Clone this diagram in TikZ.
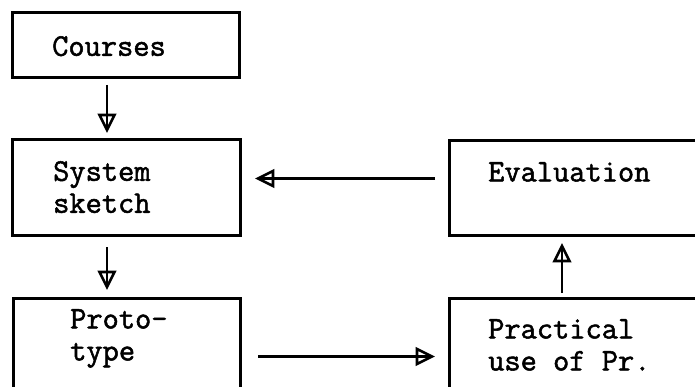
\documentclass[tikz,border=0pt]{standalone}
\usepackage{fontspec}
\newfontfamily\tw{Latin Modern Mono}[FakeBold=1.6]
\usetikzlibrary{decorations.markings}
\tikzset{
  box/.style={draw=black, line width=3pt, fill=none, anchor=north west, inner sep=0pt},
  lbl/.style={anchor=north west, inner sep=0pt, align=left, font=\tw\fontsize{31.5}{32}\selectfont},
  conn/.style={draw=black, line width=2.6pt, postaction={decorate},
    decoration={markings, mark=at position 1 with {\draw[line width=2.6pt, line join=miter] (0,0) -- (-15,7.5) -- (-15,-7.5) -- cycle;}}}
}
\begin{document}
\begin{tikzpicture}[x=1pt,y=-1pt]
\useasboundingbox (0,0) rectangle (695,387);
\fill[white] (0,0) rectangle (695,387);
\clip (0,0) rectangle (695,387);
\node[box, minimum width=227pt, minimum height=65pt] (courses) at (11,11) {};
\node[box, minimum width=228pt, minimum height=96pt] (sys) at (11,138) {};
\node[box, minimum width=227pt, minimum height=110pt] (proto) at (12,297) {};
\node[box, minimum width=260pt, minimum height=95pt] (eval) at (448,139) {};
\node[box, minimum width=260pt, minimum height=110pt] (prac) at (448,297) {};
\node[lbl] (tcourses) at (52,36) {Courses};
\node[lbl] (tsys) at (53,161) {System\\sketch};
\node[lbl] (tproto) at (70,309) {Proto-\\type};
\node[lbl] (teval) at (488,162) {Evaluation};
\node[lbl] (tprac) at (488,319) {Practical\\use of Pr.};
\draw[conn] ([shift={(96,6)}]courses.south west) -- ([shift={(96,-8)}]sys.north west);
\draw[conn] ([shift={(96,10)}]sys.south west) -- ([shift={(95,-10)}]proto.north west);
\draw[conn] ([shift={(-13,-9.5)}]eval.west) -- ([shift={(16,-9)}]sys.east);
\draw[conn] ([shift={(16,3)}]proto.east) -- ([shift={(-16,3)}]prac.west);
\draw[conn] ([shift={(114,-4)}]prac.north west) -- ([shift={(114,9)}]eval.south west);
\end{tikzpicture}
\end{document}
